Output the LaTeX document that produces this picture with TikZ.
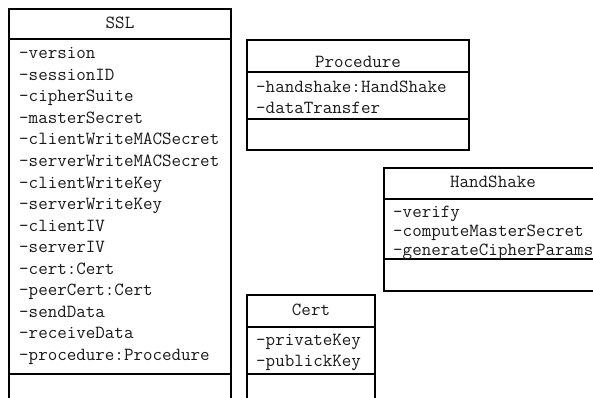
\documentclass[tikz,border=0pt]{standalone}
\usepackage{fontspec}
\begin{document}
\begin{tikzpicture}[x=1pt,y=-1pt,
  umlbox/.style={draw=black,line width=1.3pt},
  sepline/.style={draw=black,line width=1.3pt},
  attr/.style={anchor=base west,inner sep=0pt,text=black!90,font=\ttfamily\fontsize{18.5}{20}\selectfont},
  ttl/.style={anchor=base,inner sep=0pt,text=black!90,font=\ttfamily\fontsize{18.5}{20}\selectfont}]
\useasboundingbox (0,0) rectangle (593,398);
\clip (0,0) rectangle (593,398);
\fill[white] (0,0) rectangle (593,398);

% SSL
\draw[umlbox] (9,9) rectangle (231,420);
\draw[sepline] (9,39) -- (231,39);
\draw[sepline] (9,374) -- (231,374);
\node[ttl] (sslT) at (120,29) {SSL};
\foreach \t [count=\i from 0] in {version,sessionID,cipherSuite,masterSecret,clientWriteMACSecret,serverWriteMACSecret,clientWriteKey,serverWriteKey,clientIV,serverIV,cert:Cert,peerCert:Cert,sendData,receiveData,procedure:Procedure}
  \node[attr] (ssl\i) at (19,59+21.5*\i) {-\t};

% Procedure
\draw[umlbox] (247,40) rectangle (469,150);
\draw[sepline] (247,72) -- (469,72);
\draw[sepline] (247,119) -- (469,119);
\node[ttl] (procT) at (358,68) {Procedure};
\node[attr] (proc0) at (256,93) {-handshake:HandShake};
\node[attr] (proc1) at (256,114) {-dataTransfer};

% HandShake
\draw[umlbox] (384,168) rectangle (602,291);
\draw[sepline] (384,199) -- (602,199);
\draw[sepline] (384,259) -- (602,259);
\node[ttl] (hsT) at (493,187) {HandShake};
\node[attr] (hs0) at (393,217) {-verify};
\node[attr] (hs1) at (393,236.5) {-computeMasterSecret};
\node[attr] (hs2) at (393,255.5) {-generateCipherParams};

% Cert
\draw[umlbox] (247,295) rectangle (375,420);
\draw[sepline] (247,327) -- (375,327);
\draw[sepline] (247,374) -- (375,374);
\node[ttl] (certT) at (311,315) {Cert};
\node[attr] (cert0) at (256,345.5) {-privateKey};
\node[attr] (cert1) at (256,366) {-publickKey};
\end{tikzpicture}
\end{document}
